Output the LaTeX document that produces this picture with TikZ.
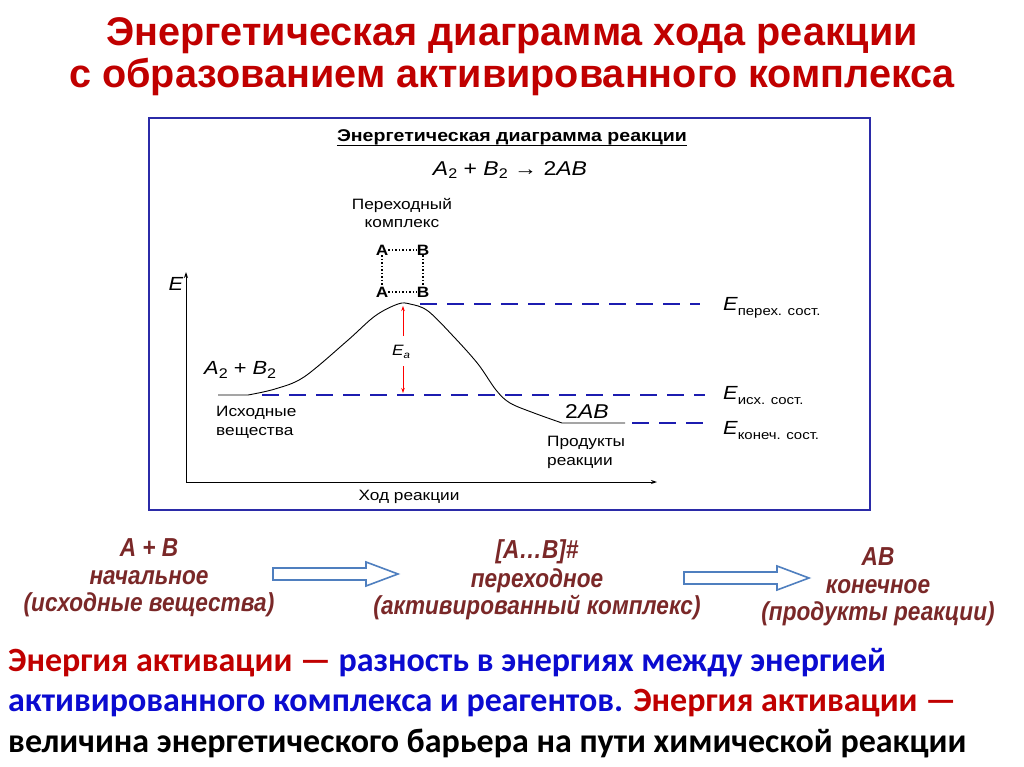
\documentclass[tikz,border=0pt]{standalone}
\usepackage{fontspec}
\setmainfont{Liberation Sans}
\newfontfamily\narrowfont[FakeStretch=0.99]{Liberation Sans}
\newfontfamily\stagefont[FakeStretch=0.87]{Liberation Sans}
\newfontfamily\diagfont[FakeStretch=1.15]{Liberation Sans}
\newfontfamily\calfont{Carlito}
\usetikzlibrary{arrows.meta}
\definecolor{titlered}{HTML}{C00000}
\definecolor{frameblue}{HTML}{2B2BA8}
\definecolor{dashblue}{HTML}{1C1CB0}
\definecolor{darkmaroon}{HTML}{7A2828}
\definecolor{arrowblue}{HTML}{4F7FBF}
\definecolor{textblue}{HTML}{0B0BD0}
\newcommand{\fs}[1]{\fontsize{#1}{#1}\selectfont}
\newcommand{\Elab}[1]{{\fs{19}\itshape E}\raisebox{-5pt}{\fs{13}#1}}
\begin{document}
\begin{tikzpicture}[x=1pt,y=-1pt,
  title/.style={font=\narrowfont\bfseries\fs{40}, text=titlered, inner sep=0pt, anchor=base},
  lbl/.style={font=\diagfont\fs{15}, inner sep=0pt, align=center},
  elabel/.style={font=\diagfont, inner sep=0pt, anchor=base west},
  energy/.style={dashblue, line width=1.3pt, dash pattern=on 17pt off 10pt},
  stage/.style={font=\stagefont\bfseries\itshape\fs{26}, text=darkmaroon, inner sep=0pt, anchor=base},
  bottom/.style={font=\calfont\bfseries\fs{34}, inner sep=0pt, anchor=base west},
  blockarrow/.style={draw=arrowblue, line width=1.6pt, fill=white, line join=miter},
  axis/.style={line width=1pt, -{Stealth[length=6pt,width=4pt]}},
  eaarrow/.style={red, line width=0.8pt, -{Stealth[length=5pt,width=3.5pt]}},
  atom/.style={font=\diagfont\bfseries\fs{15}, inner sep=0pt},
  bond/.style={line width=1.5pt, dotted}]
\useasboundingbox (0,0) rectangle (1024,767);
% Title
\node[title] (t1) at (512,46) {Энергетическая диаграмма хода реакции};
\node[title] (t2) at (512,88) {с образованием активированного комплекса};
% Frame
\draw[frameblue, line width=1.8pt] (149,118) rectangle (870,510);
% Inner title
\node[font=\diagfont\bfseries\fs{17}, inner sep=0pt, anchor=base] (it) at (512,142) {Энергетическая диаграмма реакции};
\draw[line width=0.9pt] ([yshift=-3pt]it.base west) -- ([yshift=-3pt]it.base east);
\node[font=\diagfont\fs{20}, inner sep=0pt, anchor=base] (eq) at (510,176) {{\itshape A}\raisebox{-3pt}{\fs{14}2} + {\itshape B}\raisebox{-3pt}{\fs{14}2} → 2{\itshape AB}};
% Transition complex
\node[lbl] (tc) at (402,213) {Переходный\\[3pt]комплекс};
\node[atom] (a1) at (382,250) {A};
\node[atom] (b1) at (423,250) {B};
\node[atom] (a2) at (382,292) {A};
\node[atom] (b2) at (423,292) {B};
\draw[bond] (a1) -- (b1);
\draw[bond] (a2) -- (b2);
\draw[bond] (a1) -- (a2);
\draw[bond] (b1) -- (b2);
% Axes
\coordinate (o) at (186,482);
\coordinate (ytop) at (186,272);
\coordinate (xend) at (657,482);
\draw[axis] (o) -- (ytop);
\draw[axis] (o) -- (xend);
\node[font=\diagfont\fs{19}\itshape, inner sep=0pt] (E) at (176,284) {E};
\node[lbl] (xl) at (409,497) {Ход реакции};
% Energy levels
\coordinate (peak) at (400,304);
\coordinate (p1s) at (420,304);
\coordinate (p1e) at (700,304);
\coordinate (p2s) at (262,395);
\coordinate (p2e) at (705,395);
\coordinate (p3s) at (632,423);
\coordinate (p3e) at (705,423);
\draw[energy] (p1s) -- (p1e);
\draw[energy] (p2s) -- (p2e);
\draw[energy] (p3s) -- (p3e);
\node[elabel] (El1) at (723,310) {\Elab{перех. сост.}};
\node[elabel] (El2) at (723,399) {\Elab{исх. сост.}};
\node[elabel] (El3) at (723,434) {\Elab{конеч. сост.}};
% Reaction curve
\draw[line width=0.9pt] (218,395) -- (248,395)
  plot[smooth, tension=0.55] coordinates {(248,395) (275,389) (304,377) (347,341) (375,316) (398,304) (410,304) (428,311) (454,337) (478,364) (496,390) (510,403) (534,413) (562,423)}
  -- (625,423);
% Ea arrow
\node[font=\diagfont\fs{15}, inner sep=1pt] (Ea) at (401,352) {{\itshape E}\raisebox{-3pt}{\fs{10}\itshape a}};
\coordinate (eatop) at (403,306);
\coordinate (eabot) at (403,393);
\draw[eaarrow] (403,336) -- (eatop);
\draw[eaarrow] (403,366) -- (eabot);
% Labels
\node[font=\diagfont\fs{19}, inner sep=0pt, anchor=base west] (r) at (204,374) {{\itshape A}\raisebox{-4pt}{\fs{14}2} + {\itshape B}\raisebox{-4pt}{\fs{14}2}};
\node[lbl, align=left, anchor=north west] (rl) at (216,406) {Исходные\\[4pt]вещества};
\node[font=\diagfont\fs{20}, inner sep=0pt, anchor=base west] (pr) at (565,418) {2{\itshape AB}};
\node[lbl, align=left, anchor=north west] (pl) at (547,436) {Продукты\\[4pt]реакции};
% Stages row
\node[stage] (s1a) at (149,556) {A + B};
\node[stage] (s1b) at (149,584) {начальное};
\node[stage] (s1c) at (149,611) {(исходные вещества)};
\node[stage] (s2a) at (537,558) {[A…B]\#};
\node[stage] (s2b) at (537,587) {переходное};
\node[stage] (s2c) at (537,614) {(активированный комплекс)};
\node[stage] (s3a) at (878,565) {AB};
\node[stage] (s3b) at (878,593) {конечное};
\node[stage] (s3c) at (878,620) {(продукты реакции)};
\draw[blockarrow] (273,568) -- (366,568) -- (366,562) -- (398,574) -- (366,586) -- (366,580) -- (273,580) -- cycle;
\draw[blockarrow] (684,572) -- (777,572) -- (777,566) -- (809,578) -- (777,590) -- (777,584) -- (684,584) -- cycle;
% Bottom definition
\node[bottom] (d1) at (8,671) {\textcolor{titlered}{Энергия активации —} \textcolor{textblue}{разность в энергиях между энергией}};
\node[bottom] (d2) at (8,711) {\textcolor{textblue}{активированного комплекса и реагентов.} \textcolor{titlered}{Энергия активации —}};
\node[bottom] (d3) at (8,752) {величина энергетического барьера на пути химической реакции};
\end{tikzpicture}
\end{document}
